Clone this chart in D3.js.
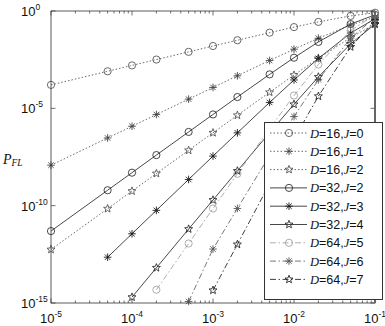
<!DOCTYPE html>
<html>
<head>
<meta charset="utf-8">
<script src="https://cdn.jsdelivr.net/npm/d3@7"></script>
<style>
  body { margin: 0; background: #fff; }
  svg { display: block; font-family: "Liberation Sans", Arial, sans-serif; }
</style>
</head>
<body>
<div id="wrapper"></div>
<script>
// error probability on the x axis
const pValues = [1e-5, 5e-5, 1e-4, 2e-4, 5e-4, 1e-3, 2e-3, 5e-3, 1e-2, 2e-2, 5e-2, 1e-1];

// P_FL (null = below 1e-15, not drawn)
const d16j0 = [1.6e-4, 8.0e-4, 1.6e-3, 3.2e-3, 7.97e-3, 1.59e-2, 3.15e-2, 7.71e-2, 0.149, 0.276, 0.560, 0.815];
const d16j1 = [1.2e-8, 3.0e-7, 1.2e-6, 4.8e-6, 2.97e-5, 1.18e-4, 4.7e-4, 2.86e-3, 1.09e-2, 3.99e-2, 0.189, 0.485];
const d16j2 = [5.6e-13, 7.0e-11, 5.6e-10, 4.48e-9, 6.95e-8, 5.55e-7, 4.39e-6, 6.67e-5, 5.08e-4, 3.70e-3, 4.29e-2, 0.211];
const d32j2 = [4.96e-12, 6.2e-10, 4.96e-9, 3.97e-8, 6.13e-7, 4.85e-6, 3.80e-5, 5.56e-4, 3.99e-3, 2.58e-2, 0.214, 0.633];
const d32j3 = [null, 2.25e-13, 3.6e-12, 5.75e-11, 2.22e-9, 3.52e-8, 5.50e-7, 2.01e-5, 2.87e-4, 3.67e-3, 7.38e-2, 0.400];
const d32j4 = [null, null, 2.0e-15, 6.44e-14, 6.29e-12, 1.96e-10, 6.1e-9, 5.62e-7, 1.61e-5, 4.1e-4, 2.04e-2, 0.212];
const d64j5 = [null, null, null, 4.8e-15, 1.14e-12, 7.14e-11, 4.34e-9, 9.14e-7, 4.56e-5, 1.78e-3, 0.100, 0.627];
const d64j6 = [null, null, null, null, 1.2e-15, 5.9e-13, 7.2e-11, 3.78e-8, 3.77e-6, 2.93e-4, 4.03e-2, 0.461];
const d64j7 = [null, null, null, null, null, 4.5e-15, 1.02e-12, 1.35e-9, 2.69e-7, 4.18e-5, 1.43e-2, 0.308];

const seriesD = [16, 16, 16, 32, 32, 32, 64, 64, 64];
const seriesJ = [0, 1, 2, 2, 3, 4, 5, 6, 7];
const seriesValues = [d16j0, d16j1, d16j2, d32j2, d32j3, d32j4, d64j5, d64j6, d64j7];

const xTickExps = [-5, -4, -3, -2, -1];
const yTickExps = [0, -5, -10, -15];

// styles per series
const markers = ["circle", "aster", "star", "circle", "aster", "star", "circle", "aster", "star"];
const dashes = ["1.5,2", "1.5,2", "1.5,2", null, null, null, "6,2.5,1.5,2.5", "6,2.5,1.5,2.5", "6,2.5,1.5,2.5"];
const colors = ["#444", "#444", "#444", "#1a1a1a", "#1a1a1a", "#1a1a1a", "#999", "#555", "#111"];

const width = 385, height = 326;
const margin = { left: 51, right: 10, top: 11, bottom: 23 };

const svg = d3.select("#wrapper").append("svg")
    .attr("width", width)
    .attr("height", height);

const x = d3.scaleLog().domain([1e-5, 1e-1]).range([margin.left, width - margin.right]);
const y = d3.scaleLog().domain([1e-15, 1]).range([height - margin.bottom, margin.top]);

const x0 = x.range()[0], x1 = x.range()[1];
const y0 = y.range()[0], y1 = y.range()[1];

svg.append("clipPath").attr("id", "clip")
  .append("rect")
    .attr("x", x0).attr("y", y1)
    .attr("width", x1 - x0).attr("height", y0 - y1);

// ticks
const ticks = svg.append("g").attr("stroke", "#333").attr("stroke-width", 0.7);
const minorX = [];
for (let e = -5; e < -1; e++) for (let m = 2; m <= 9; m++) minorX.push(m * Math.pow(10, e));
minorX.forEach(v => {
  ticks.append("line").attr("x1", x(v)).attr("x2", x(v)).attr("y1", y0).attr("y2", y0 - 2.5);
  ticks.append("line").attr("x1", x(v)).attr("x2", x(v)).attr("y1", y1).attr("y2", y1 + 2.5);
});
xTickExps.forEach(e => {
  const v = Math.pow(10, e);
  ticks.append("line").attr("x1", x(v)).attr("x2", x(v)).attr("y1", y0).attr("y2", y0 - 4.5);
  ticks.append("line").attr("x1", x(v)).attr("x2", x(v)).attr("y1", y1).attr("y2", y1 + 4.5);
});
yTickExps.forEach(e => {
  const v = Math.pow(10, e);
  ticks.append("line").attr("x1", x0).attr("x2", x0 + 4.5).attr("y1", y(v)).attr("y2", y(v));
  ticks.append("line").attr("x1", x1).attr("x2", x1 - 4.5).attr("y1", y(v)).attr("y2", y(v));
});

// tick labels
function powLabel(sel, e) {
  sel.append("tspan").attr("font-size", 13).text("10");
  sel.append("tspan").attr("font-size", 8.5).attr("dy", -6).text(e);
}
xTickExps.forEach(e => {
  const t = svg.append("text")
      .attr("x", x(Math.pow(10, e)))
      .attr("y", 323)
      .attr("text-anchor", "middle")
      .attr("fill", "#111");
  powLabel(t, e);
});
yTickExps.forEach(e => {
  const t = svg.append("text")
      .attr("x", 21)
      .attr("y", y(Math.pow(10, e)) + 5)
      .attr("fill", "#111");
  powLabel(t, e);
});

// y axis title
const yt = svg.append("text")
    .attr("x", 3).attr("y", 164)
    .attr("font-family", "'Liberation Serif', 'Times New Roman', serif")
    .attr("font-style", "italic")
    .attr("fill", "#111");
yt.append("tspan").attr("font-size", 14).text("P");
yt.append("tspan").attr("font-size", 9.5).attr("dy", 2).text("FL");

// markers
function drawMarker(g, type, cx, cy, color) {
  if (type === "circle") {
    g.append("circle").attr("cx", cx).attr("cy", cy).attr("r", 3.6)
      .attr("fill", "none").attr("stroke", color).attr("stroke-width", 0.8);
  } else if (type === "aster") {
    const r = 3.8, d = r * 0.72;
    const p = `M${cx - r},${cy}H${cx + r}M${cx},${cy - r}V${cy + r}` +
              `M${cx - d},${cy - d}L${cx + d},${cy + d}M${cx - d},${cy + d}L${cx + d},${cy - d}`;
    g.append("path").attr("d", p).attr("fill", "none").attr("stroke", color).attr("stroke-width", 0.9);
  } else {
    const ro = 4.2, ri = 1.8;
    const pts = d3.range(10).map(i => {
      const a = -Math.PI / 2 + i * Math.PI / 5;
      const r = i % 2 ? ri : ro;
      return [cx + r * Math.cos(a), cy + r * Math.sin(a)];
    });
    g.append("path").attr("d", "M" + pts.join("L") + "Z")
      .attr("fill", "none").attr("stroke", color).attr("stroke-width", 0.8);
  }
}

const line = d3.line()
    .defined(d => d[1] != null)
    .x(d => x(d[0]))
    .y(d => y(d[1]));

const plot = svg.append("g").attr("clip-path", "url(#clip)");
seriesValues.forEach((vals, i) => {
  const pts = pValues.map((p, k) => [p, vals[k]]);
  plot.append("path")
      .attr("d", line(pts))
      .attr("fill", "none")
      .attr("stroke", colors[i])
      .attr("stroke-width", 0.8)
      .attr("stroke-dasharray", dashes[i]);
});
const mk = svg.append("g");
seriesValues.forEach((vals, i) => {
  pValues.forEach((p, k) => {
    if (vals[k] != null) drawMarker(mk, markers[i], x(p), y(vals[k]), colors[i]);
  });
});

// box
svg.append("rect")
    .attr("x", x0).attr("y", y1)
    .attr("width", x1 - x0).attr("height", y0 - y1)
    .attr("fill", "none").attr("stroke", "#333").attr("stroke-width", 0.8);
svg.append("line")
    .attr("x1", x1).attr("x2", x1).attr("y1", y1).attr("y2", y0)
    .attr("stroke", "#666").attr("stroke-width", 2);

// legend
const lg = svg.append("g");
lg.append("rect")
    .attr("x", 264.5).attr("y", 122.5)
    .attr("width", 118).attr("height", 177)
    .attr("fill", "#fff").attr("stroke", "#333").attr("stroke-width", 1);
seriesValues.forEach((vals, i) => {
  const ly = 133 + i * 18.3;
  lg.append("line")
      .attr("x1", 270).attr("x2", 307).attr("y1", ly).attr("y2", ly)
      .attr("stroke", colors[i]).attr("stroke-width", 0.8)
      .attr("stroke-dasharray", dashes[i]);
  drawMarker(lg, markers[i], 289, ly, colors[i]);
  const t = lg.append("text")
      .attr("x", 310).attr("y", ly + 4.5)
      .attr("font-size", 12.5)
      .attr("fill", "#111");
  t.append("tspan").attr("font-family", "'Liberation Serif', serif").attr("font-style", "italic").text("D");
  t.append("tspan").text("=" + seriesD[i] + ",");
  t.append("tspan").attr("font-family", "'Liberation Serif', serif").attr("font-style", "italic").text("J");
  t.append("tspan").text("=" + seriesJ[i]);
});
</script>
</body>
</html>
